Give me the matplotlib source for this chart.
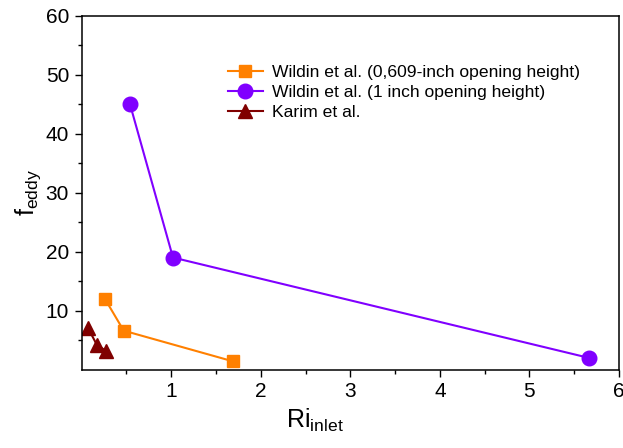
import numpy as np
import matplotlib
matplotlib.use("Agg")
import matplotlib.pyplot as plt
from matplotlib.ticker import FixedLocator

plt.rcParams['font.family'] = ['Liberation Sans', 'DejaVu Sans']
plt.rcParams['mathtext.default'] = 'regular'

# data
ri_w609 = [0.26, 0.47, 1.69]
f_w609 = [12.0, 6.6, 1.4]

ri_w1 = [0.54, 1.02, 5.66]
f_w1 = [45.0, 19.0, 2.0]

ri_karim = [0.07, 0.17, 0.27]
f_karim = [7.1, 4.2, 3.2]

labels = ["Wildin et al. (0,609-inch opening height)",
          "Wildin et al. (1 inch opening height)",
          "Karim et al."]

fig = plt.figure(figsize=(6.23, 4.48), dpi=100)
ax = fig.add_axes([0.131, 0.175, 0.8626, 0.79])

ax.plot(ri_w609, f_w609, color="#FF8000", marker="s", ms=9, lw=1.5, label=labels[0])
ax.plot(ri_w1, f_w1, color="#8000FF", marker="o", ms=10.5, lw=1.5, label=labels[1])
ax.plot(ri_karim, f_karim, color="#800000", marker="^", ms=10, lw=1.5, label=labels[2])

ax.set_xlim(0, 6)
ax.set_ylim(0, 60)
ax.xaxis.set_major_locator(FixedLocator([1, 2, 3, 4, 5, 6]))
ax.xaxis.set_minor_locator(FixedLocator([0.5, 1.5, 2.5, 3.5, 4.5, 5.5]))
ax.yaxis.set_major_locator(FixedLocator([10, 20, 30, 40, 50, 60]))
ax.yaxis.set_minor_locator(FixedLocator([5, 15, 25, 35, 45, 55]))
ax.tick_params(which='major', direction='out', length=5, width=1, labelsize=15, pad=4)
ax.tick_params(which='minor', direction='out', length=3, width=1)
for s in ax.spines.values():
    s.set_linewidth(1.1)

ax.set_xlabel("Ri$_{inlet}$", fontsize=18)
ax.xaxis.set_label_coords(0.434, -0.105)
ax.set_ylabel("f$_{eddy}$", fontsize=18, labelpad=2)

ax.legend(loc='upper left', bbox_to_anchor=(0.259, 0.88), frameon=False,
          fontsize=12.6, handlelength=2.0, handletextpad=0.5, labelspacing=0.25,
          borderaxespad=0)

fig.savefig("out.png", dpi=100)
